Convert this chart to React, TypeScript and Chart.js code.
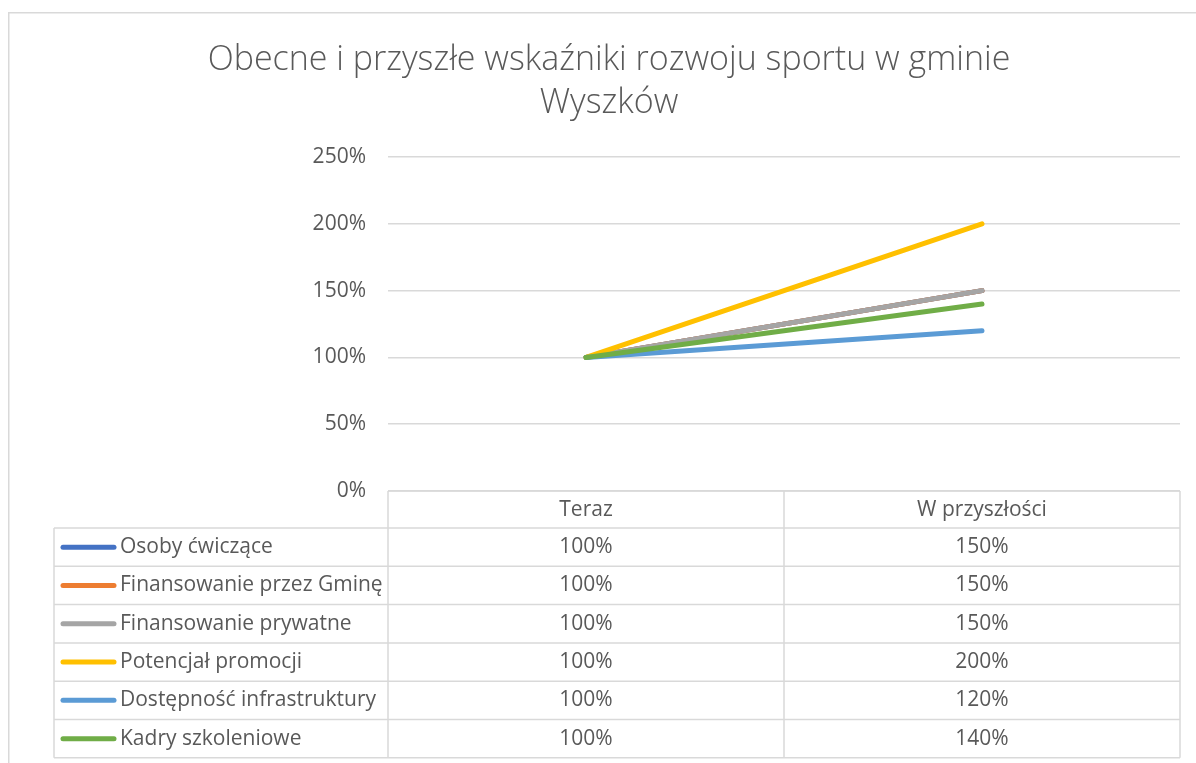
import React, { useEffect, useRef } from 'react';
import { Chart, registerables } from 'chart.js';

Chart.register(...registerables);

const categories = ['Teraz', 'W przyszłości'];
const seriesNames = [
  'Osoby ćwiczące',
  'Finansowanie przez Gminę',
  'Finansowanie prywatne',
  'Potencjał promocji',
  'Dostępność infrastruktury',
  'Kadry szkoleniowe',
];
const osobyCwiczace = [1.0, 1.5];
const finansowanieGmina = [1.0, 1.5];
const finansowaniePrywatne = [1.0, 1.5];
const potencjalPromocji = [1.0, 2.0];
const dostepnoscInfrastruktury = [1.0, 1.2];
const kadrySzkoleniowe = [1.0, 1.4];
const seriesValues = [
  osobyCwiczace,
  finansowanieGmina,
  finansowaniePrywatne,
  potencjalPromocji,
  dostepnoscInfrastruktury,
  kadrySzkoleniowe,
];
const seriesColors = ['#4472C4', '#ED7D31', '#A5A5A5', '#FFC000', '#5B9BD5', '#70AD47'];
const titleLines = ['Obecne i przyszłe wskaźniki rozwoju sportu w gminie', 'Wyszków'];
const yMin = 0;
const yMax = 2.5;
const yStep = 0.5;

const FONT = '"Open Sans", "Noto Sans", sans-serif';
const TEXT = '#595959';
const GRID = '#d9d9d9';

const fmt = (v: number) => `${Math.round(v * 100)}%`;

const decorPlugin = {
  id: 'decor',
  beforeDraw(chart: any) {
    const { ctx } = chart;
    ctx.save();
    ctx.strokeStyle = GRID;
    ctx.lineWidth = 1.5;
    ctx.beginPath();
    ctx.moveTo(8.75, 800);
    ctx.lineTo(8.75, 12.75);
    ctx.lineTo(1300, 12.75);
    ctx.stroke();
    ctx.fillStyle = TEXT;
    ctx.font = `300 34px ${FONT}`;
    ctx.textAlign = 'center';
    ctx.textBaseline = 'middle';
    ctx.fillText(titleLines[0], 609, 60);
    ctx.fillText(titleLines[1], 609, 103);
    ctx.restore();
  },
  afterDraw(chart: any) {
    const { ctx, chartArea, scales } = chart;
    const xs = scales.x;
    const left = chartArea.left;
    const right = chartArea.right;
    const top = chartArea.bottom;
    const headerH = 37;
    const rowH = 38.3;
    const legendLeft = 54;
    const n = categories.length;
    const centers = categories.map((_, i) => xs.getPixelForValue(i));
    const bounds: number[] = [left];
    for (let i = 0; i < n - 1; i++) bounds.push((centers[i] + centers[i + 1]) / 2);
    bounds.push(right);
    const rowsTop = top + headerH;
    const bottom = rowsTop + rowH * seriesNames.length;

    ctx.save();
    ctx.strokeStyle = GRID;
    ctx.lineWidth = 1.5;
    ctx.beginPath();
    ctx.moveTo(left, top);
    ctx.lineTo(right, top);
    bounds.forEach((b) => {
      ctx.moveTo(b, top);
      ctx.lineTo(b, bottom);
    });
    ctx.moveTo(legendLeft, rowsTop);
    ctx.lineTo(legendLeft, bottom);
    for (let r = 0; r <= seriesNames.length; r++) {
      const y = rowsTop + r * rowH;
      ctx.moveTo(legendLeft, y);
      ctx.lineTo(right, y);
    }
    ctx.stroke();

    ctx.fillStyle = TEXT;
    ctx.font = `21px ${FONT}`;
    ctx.textBaseline = 'middle';
    ctx.textAlign = 'center';
    categories.forEach((c, i) => ctx.fillText(c, centers[i], top + headerH / 2 + 1));

    seriesNames.forEach((name, r) => {
      const cy = rowsTop + r * rowH + rowH / 2;
      ctx.strokeStyle = seriesColors[r];
      ctx.lineWidth = 5;
      ctx.lineCap = 'round';
      ctx.beginPath();
      ctx.moveTo(63, cy);
      ctx.lineTo(114, cy);
      ctx.stroke();
      ctx.fillStyle = TEXT;
      ctx.textAlign = 'left';
      ctx.fillText(name, 120, cy);
      ctx.textAlign = 'center';
      seriesValues[r].forEach((v, i) => ctx.fillText(fmt(v), centers[i], cy));
    });
    ctx.restore();
  },
};

export default function App() {
  const ref = useRef<HTMLCanvasElement | null>(null);
  useEffect(() => {
    if (!ref.current) return;
    const chart = new Chart(ref.current, {
      type: 'line',
      data: {
        labels: categories,
        datasets: seriesNames.map((name, i) => ({
          label: name,
          data: seriesValues[i],
          borderColor: seriesColors[i],
          backgroundColor: seriesColors[i],
          borderWidth: 5,
          borderCapStyle: 'round' as const,
          borderJoinStyle: 'round' as const,
          pointRadius: 0,
          tension: 0,
          order: seriesNames.length - i,
        })),
      },
      options: {
        animation: false,
        responsive: false,
        devicePixelRatio: 1,
        layout: { padding: { left: 0, right: 16, top: 157, bottom: 272 } },
        plugins: {
          legend: { display: false },
          title: { display: false },
          tooltip: { enabled: false },
        },
        scales: {
          x: {
            type: 'category',
            offset: true,
            display: false,
          },
          y: {
            min: yMin,
            max: yMax,
            afterFit: (s: any) => {
              s.width = 388;
            },
            ticks: {
              stepSize: yStep,
              padding: 22,
              color: TEXT,
              font: { family: FONT, size: 21 },
              callback: (v: any) => fmt(Number(v)),
            },
            grid: { color: GRID, lineWidth: 1.5, drawTicks: false },
            border: { display: false },
          },
        },
      },
      plugins: [decorPlugin],
    });
    return () => chart.destroy();
  }, []);
  return (
    <div style={{ position: 'fixed', left: 0, top: 0, width: 1196, height: 763, background: '#fff' }}>
      <canvas ref={ref} width={1196} height={763} style={{ display: 'block' }} />
    </div>
  );
}
